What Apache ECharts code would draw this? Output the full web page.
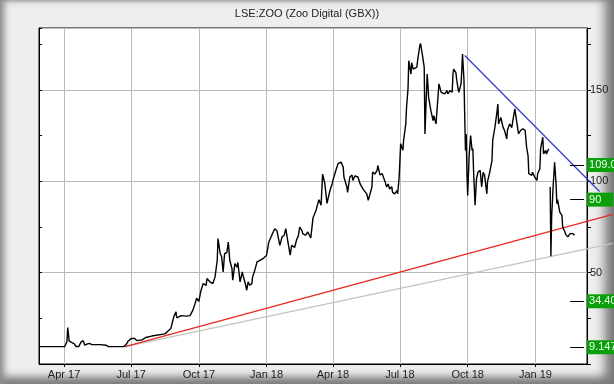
<!DOCTYPE html>
<html><head><meta charset="utf-8">
<script src="https://cdn.jsdelivr.net/npm/echarts@6/dist/echarts.min.js"></script>
<style>
html,body{margin:0;padding:0;background:#eeeeee;}
#wrap{position:relative;width:614px;height:384px;background:#eeeeee;overflow:hidden;
 box-shadow: inset 7px 0 7px -3px #8c8c8c, inset -12px 0 11px -3px #777777, inset 0 -10px 9px -3px #7c7c7c, inset 0 3px 3px -2px #bdbdbd;}
#chart{position:absolute;left:0;top:0;width:614px;height:384px;}
</style></head>
<body><div id="wrap"><div id="chart"></div></div>
<script>
// ---- Price series ----
const priceDates = ['2017-02-26','2017-04-02','2017-04-05','2017-04-06','2017-04-08','2017-04-10','2017-04-15','2017-04-17','2017-04-21','2017-04-24','2017-04-27','2017-04-29','2017-05-05','2017-05-09','2017-05-20','2017-05-28','2017-05-31','2017-06-21','2017-06-24','2017-06-27','2017-07-01','2017-07-06','2017-07-09','2017-07-16','2017-07-21','2017-07-29','2017-08-16','2017-08-19','2017-08-24','2017-08-28','2017-08-31','2017-09-01','2017-09-07','2017-09-14','2017-09-19','2017-09-23','2017-09-26','2017-09-28','2017-10-01','2017-10-04','2017-10-07','2017-10-11','2017-10-12','2017-10-16','2017-10-20','2017-10-23','2017-10-26','2017-10-27','2017-10-30','2017-11-01','2017-11-03','2017-11-05','2017-11-08','2017-11-10','2017-11-12','2017-11-15','2017-11-16','2017-11-19','2017-11-22','2017-11-23','2017-11-26','2017-11-29','2017-11-30','2017-12-03','2017-12-05','2017-12-07','2017-12-09','2017-12-12','2017-12-13','2017-12-16','2017-12-19','2017-12-23','2017-12-27','2018-01-01','2018-01-04','2018-01-08','2018-01-12','2018-01-15','2018-01-19','2018-01-22','2018-01-25','2018-01-27','2018-01-30','2018-02-02','2018-02-04','2018-02-06','2018-02-08','2018-02-11','2018-02-13','2018-02-15','2018-02-18','2018-02-19','2018-02-23','2018-02-26','2018-03-02','2018-03-05','2018-03-09','2018-03-13','2018-03-16','2018-03-18','2018-03-21','2018-03-24','2018-03-28','2018-03-31','2018-04-01','2018-04-05','2018-04-08','2018-04-12','2018-04-15','2018-04-16','2018-04-20','2018-04-21','2018-04-24','2018-04-27','2018-04-28','2018-05-01','2018-05-05','2018-05-08','2018-05-12','2018-05-14','2018-05-17','2018-05-19','2018-05-21','2018-05-24','2018-05-25','2018-05-28','2018-05-31','2018-06-01','2018-06-04','2018-06-07','2018-06-08','2018-06-11','2018-06-13','2018-06-15','2018-06-17','2018-06-20','2018-06-21','2018-06-24','2018-06-27','2018-06-28','2018-06-30','2018-07-02','2018-07-05','2018-07-06','2018-07-09','2018-07-10','2018-07-12','2018-07-13','2018-07-16','2018-07-17','2018-07-19','2018-07-21','2018-07-24','2018-07-25','2018-07-28','2018-07-29','2018-08-01','2018-08-03','2018-08-04','2018-08-05','2018-08-07','2018-08-08','2018-08-09','2018-08-12','2018-08-15','2018-08-16','2018-08-19','2018-08-20','2018-08-23','2018-08-26','2018-08-28','2018-08-31','2018-09-03','2018-09-04','2018-09-07','2018-09-10','2018-09-11','2018-09-12','2018-09-15','2018-09-16','2018-09-18','2018-09-19','2018-09-22','2018-09-23','2018-09-24','2018-09-26','2018-09-27','2018-09-28','2018-09-29','2018-09-30','2018-10-01','2018-10-03','2018-10-05','2018-10-07','2018-10-08','2018-10-09','2018-10-11','2018-10-13','2018-10-15','2018-10-18','2018-10-20','2018-10-22','2018-10-24','2018-10-27','2018-10-28','2018-10-31','2018-11-03','2018-11-04','2018-11-07','2018-11-10','2018-11-11','2018-11-12','2018-11-15','2018-11-18','2018-11-20','2018-11-23','2018-11-24','2018-11-27','2018-11-30','2018-12-01','2018-12-04','2018-12-05','2018-12-07','2018-12-09','2018-12-12','2018-12-15','2018-12-18','2018-12-20','2018-12-22','2018-12-23','2018-12-27','2018-12-28','2018-12-31','2019-01-03','2019-01-04','2019-01-07','2019-01-08','2019-01-11','2019-01-12','2019-01-15','2019-01-16','2019-01-19','2019-01-20','2019-01-21','2019-01-22','2019-01-23','2019-01-25','2019-01-27','2019-01-29','2019-01-30','2019-01-31','2019-02-03','2019-02-06','2019-02-07','2019-02-10','2019-02-11','2019-02-14','2019-02-17','2019-02-19','2019-02-21','2019-02-23'];
const priceValues = [9.5,9.6,12.5,20,12.5,11.6,11,9.6,9.6,12,12.8,10.4,11.3,10.6,10.6,10.3,9.6,9.5,10.5,12.5,14,14,12.8,13.2,14.5,15.3,16.5,17.6,19.5,25.9,28.6,25.3,26.5,26.2,26.5,29.5,33.3,36,34.3,40.4,44.1,43,46.8,45,44,47.7,56.8,68.7,60.5,58.7,50.4,60.5,61,66.8,56.8,52.3,45.9,55,53,55.6,45,50.4,48.6,44.1,40.4,45,43.1,44,47.7,51.3,55.9,56.8,57.7,59.6,66.8,70.5,74.1,73,65,69.6,70.5,74.1,66.8,59.6,65,64,63.8,68.3,70,75,73,71.4,70.5,72.3,69,80,84,90,87,104,99,88,95,98.6,100.5,106,109.7,110.6,107.8,102.4,96.9,94,102.4,103.5,100.5,103,102.4,98.6,95.8,95,93.2,89.6,88.7,96.9,105.1,104,106,108.7,103.5,104.2,103.3,99.6,96.9,98.6,95.8,97,94,93.2,95,93.2,102.4,120.6,117,122.4,131.5,140.6,150.6,166.1,158.8,165,161.5,160.7,162.6,166.1,174.3,175.6,168,162.4,126,137,158.8,153,146,138.9,133.3,136,131.5,132.4,153.4,148.8,149.7,147.9,149.7,147.9,149.7,148.8,158.8,161.5,159.6,156,150.6,148.8,153.4,160.7,169.8,155.2,135.1,116.9,126,104.2,92.3,114.2,125.1,116.9,118,106,86.9,101.5,105.1,106,96.9,105,103.3,93.2,100,105.1,111.5,122.4,129.7,138.8,142.4,131.5,135,129.7,127.9,123.3,128,131.5,129.5,132.4,139.7,139,131.5,126,128,128.8,128,118.7,114,104.2,103.3,105,102.4,100.5,104.2,106.9,117.9,124.2,115.1,117,115,117.9,null,97,59,80.5,96.9,110.5,98.6,87.8,90,83.2,81.4,75,72.3,71,69.6,71.4,70.5,71.4,70.5];

// ---- Trend lines ----
const supportDates = ['2017-06-23','2019-04-16'];
const redValues = [9.5, 82];
const greyValues = [9.5, 66.1];
const resistDates = ['2018-09-27','2019-03-29'];
const blueValues = [168.9, 94.5];

// ---- Price level labels on the right ----
const levelValues = [109.0, 90, 70.00, 34.40, 9.147];
const levelLabels = ['109.0', '90', '70.00', '34.40', '9.147'];
const levelDash = [true, true, false, true, true];
const dashDates = ['2019-02-17', '2019-03-08'];

// ---- Axis ----
const xMin = '2017-02-26', xMax = '2019-03-12';
const yMin = 0, yMax = 184;
const yLabelValues = [50, 100, 150];
const monthNames = ['Jan','Feb','Mar','Apr','May','Jun','Jul','Aug','Sep','Oct','Nov','Dec'];

// layout
const gLeft = 39, gRight = 27, gTop = 28, gBottom = 20, W = 614;
const plotW = W - gLeft - gRight, wideW = W - gLeft;
const xMinMs = +new Date(xMin + 'T00:00:00'), xMaxMs = +new Date(xMax + 'T00:00:00');
const xWideMaxMs = xMinMs + (xMaxMs - xMinMs) * wideW / plotW; // same scale, wider overlay

const font = 'Liberation Sans, Arial, sans-serif';
const chart = echarts.init(document.getElementById('chart'), null, {renderer: 'canvas'});

const pricePairs = priceDates.map((d, i) => [d, priceValues[i]]);
const redPairs = supportDates.map((d, i) => [d, redValues[i]]);
const greyPairs = supportDates.map((d, i) => [d, greyValues[i]]);
const bluePairs = resistDates.map((d, i) => [d, blueValues[i]]);

const levelMarks = levelValues.map((v, i) => [
  {coord: [dashDates[0], v], lineStyle: {opacity: levelDash[i] ? 1 : 0},
   label: {formatter: levelLabels[i]}},
  {coord: [dashDates[1], v]}
]);

chart.setOption({
  animation: false,
  backgroundColor: 'transparent',
  title: {
    text: 'LSE:ZOO (Zoo Digital (GBX))', left: 'center', top: 3,
    textStyle: {fontSize: 11, fontWeight: 'normal', color: '#222', fontFamily: font}
  },
  grid: [
    {left: gLeft, right: gRight, top: gTop, bottom: gBottom, show: true, backgroundColor: '#ffffff',
     borderColor: '#000', borderWidth: 1, containLabel: false},
    {left: gLeft, right: 0, top: gTop, bottom: gBottom, show: false, containLabel: false}
  ],
  xAxis: [{
    type: 'time', gridIndex: 0, min: xMin, max: xMax, splitNumber: 5,
    axisLine: {show: true, lineStyle: {color: '#000', width: 1}},
    axisTick: {show: true, length: 3, lineStyle: {color: '#000'}},
    splitLine: {show: true, lineStyle: {color: '#b9b9b9', width: 1}},
    axisLabel: {
      showMinLabel: false, showMaxLabel: false, margin: 5,
      fontSize: 11, color: '#222', fontFamily: font, fontWeight: 'normal',
      formatter: function (val) {
        const d = new Date(val);
        return monthNames[d.getMonth()] + ' ' + String(d.getFullYear()).slice(2);
      }
    }
  }, {
    type: 'time', gridIndex: 1, min: xMinMs, max: xWideMaxMs, show: false
  }],
  yAxis: [
    {type: 'value', gridIndex: 0, position: 'right', min: yMin, max: yMax, interval: 25,
     axisLine: {show: true, lineStyle: {color: '#000'}},
     axisTick: {show: true, inside: false, length: 4, lineStyle: {color: '#000'}},
     splitLine: {show: false},
     axisLabel: {margin: 3, fontSize: 11, color: '#222', fontFamily: font,
       formatter: v => (yLabelValues.indexOf(v) >= 0 ? String(v) : '')}},
    {type: 'value', gridIndex: 0, position: 'left', min: yMin, max: yMax, interval: 25,
     axisLine: {show: true, lineStyle: {color: '#000'}},
     axisTick: {show: true, inside: true, length: 3, lineStyle: {color: '#000'}},
     splitLine: {show: false}, axisLabel: {show: false}},
    {type: 'value', gridIndex: 0, position: 'left', min: yMin, max: yMax, interval: 50,
     axisLine: {show: false}, axisTick: {show: false}, axisLabel: {show: false},
     splitLine: {show: true, lineStyle: {color: '#b9b9b9', width: 1}}},
    {type: 'value', gridIndex: 1, min: yMin, max: yMax, show: false}
  ],
  series: [
    {type: 'line', name: 'support2', data: greyPairs, xAxisIndex: 1, yAxisIndex: 3, symbol: 'none',
     silent: true, lineStyle: {color: '#c4c4bc', width: 1.2}, z: 2},
    {type: 'line', name: 'support', data: redPairs, xAxisIndex: 1, yAxisIndex: 3, symbol: 'none',
     silent: true, lineStyle: {color: '#e8281e', width: 1.3}, z: 3},
    {type: 'line', name: 'resist', data: bluePairs, xAxisIndex: 1, yAxisIndex: 3, symbol: 'none',
     silent: true, lineStyle: {color: '#3b3bd0', width: 1.3}, z: 3},
    {type: 'line', name: 'price', data: pricePairs, xAxisIndex: 0, yAxisIndex: 0, symbol: 'none',
     connectNulls: false, silent: true, lineStyle: {color: '#000', width: 1.4}, z: 4},
    {type: 'line', name: 'levels', data: [], xAxisIndex: 0, yAxisIndex: 0, clip: false, silent: true, z: 6,
     markLine: {
       silent: true, symbol: ['none', 'none'], animation: false,
       lineStyle: {color: '#000', width: 1, type: 'solid'},
       label: {show: true, position: 'end', distance: 3, color: '#f2fff2', fontSize: 11,
               fontFamily: font, backgroundColor: '#0aa00a', padding: [2, 12, 1, 2]},
       emphasis: {disabled: true},
       data: levelMarks
     }}
  ]
});
</script>
</body></html>
